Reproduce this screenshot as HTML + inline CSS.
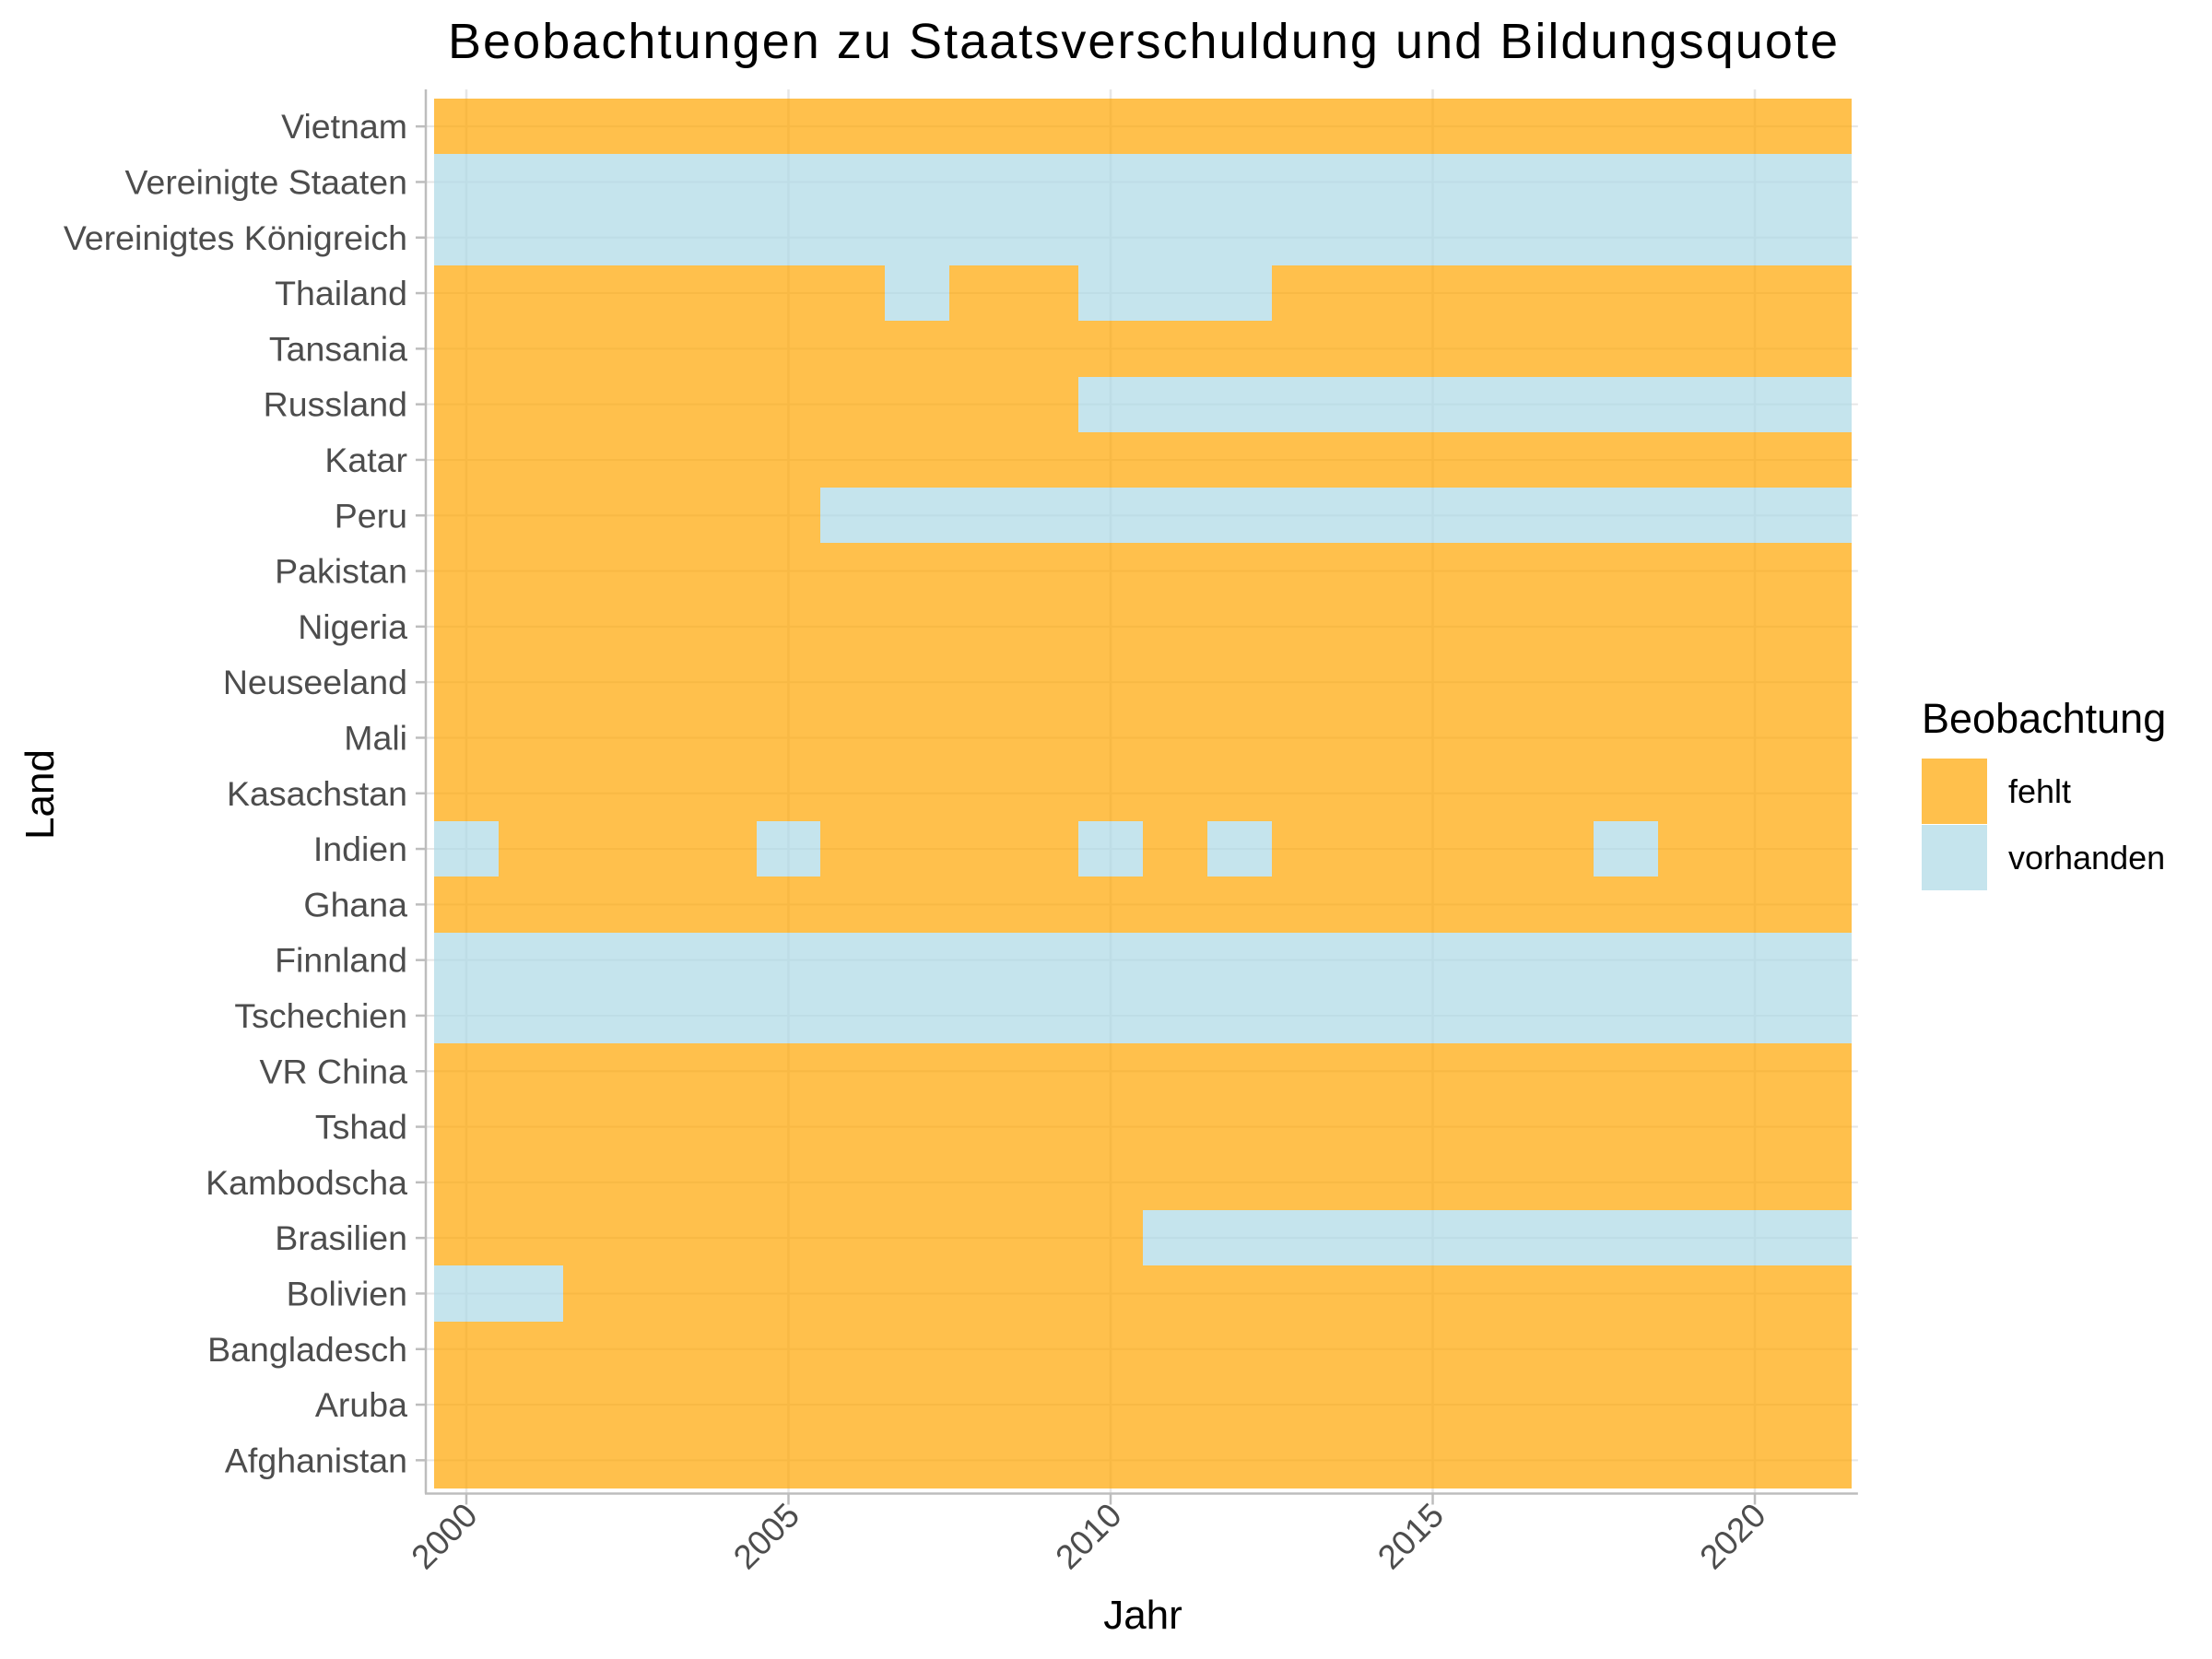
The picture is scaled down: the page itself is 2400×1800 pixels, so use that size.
<!DOCTYPE html>
<html><head><meta charset="utf-8"><style>
body{margin:0;background:#fff}
svg{display:block;font-family:"Liberation Sans",Arial,sans-serif}
</style></head><body>
<svg id="chart" width="2400" height="1800" viewBox="0 0 2400 1800">
<text x="1240" y="63" font-size="54" text-anchor="middle" fill="#000" textLength="1508">Beobachtungen zu Staatsverschuldung und Bildungsquote</text>
<g id="grid"></g>
<g id="tiles" shape-rendering="crispEdges"></g>
<g id="axes"></g>
<text x="1240" y="1767" font-size="44" text-anchor="middle" fill="#000">Jahr</text>
<text x="0" y="0" font-size="44" text-anchor="middle" fill="#000" transform="translate(58,862) rotate(-90)">Land</text>
<g>
<text x="2085" y="795" font-size="45" fill="#000">Beobachtung</text>
<rect x="2085" y="823" width="71" height="71" fill="#FFA500" fill-opacity="0.7"/>
<text x="2179" y="871" font-size="36" fill="#000">fehlt</text>
<rect x="2085" y="895" width="71" height="71" fill="#ADD8E6" fill-opacity="0.7"/>
<text x="2179" y="943" font-size="36" fill="#000">vorhanden</text>
</g>
</svg>
<script>
const countries = ["Vietnam","Vereinigte Staaten","Vereinigtes Königreich","Thailand","Tansania","Russland","Katar","Peru","Pakistan","Nigeria","Neuseeland","Mali","Kasachstan","Indien","Ghana","Finnland","Tschechien","VR China","Tshad","Kambodscha","Brasilien","Bolivien","Bangladesch","Aruba","Afghanistan"];
const years = [2000,2001,2002,2003,2004,2005,2006,2007,2008,2009,2010,2011,2012,2013,2014,2015,2016,2017,2018,2019,2020,2021];
const xTicks = [2000,2005,2010,2015,2020];
const allYears = years;
const presentYears = {
  "Vereinigte Staaten": allYears,
  "Vereinigtes Königreich": allYears,
  "Thailand": [2007,2010,2011,2012],
  "Russland": [2010,2011,2012,2013,2014,2015,2016,2017,2018,2019,2020,2021],
  "Peru": [2006,2007,2008,2009,2010,2011,2012,2013,2014,2015,2016,2017,2018,2019,2020,2021],
  "Indien": [2000,2005,2010,2012,2018],
  "Finnland": allYears,
  "Tschechien": allYears,
  "Brasilien": [2011,2012,2013,2014,2015,2016,2017,2018,2019,2020,2021],
  "Bolivien": [2000,2001]
};
const NS="http://www.w3.org/2000/svg";
const px0=506, pxPerYear=69.9, top0=107, rowH=60.3;
function xs(y){return px0+(y-2000)*pxPerYear;}
function ys(i){return top0+rowH*(i+0.5);}
function mk(tag,attrs,parent){const e=document.createElementNS(NS,tag);for(const k in attrs)e.setAttribute(k,attrs[k]);parent.appendChild(e);return e;}
const grid=document.getElementById('grid'),tiles=document.getElementById('tiles'),axes=document.getElementById('axes');
const left=xs(years[0]-0.5), right=xs(years[years.length-1]+0.5), bottom=top0+rowH*countries.length;
const axisX=462, axisY=bottom+6;
countries.forEach((c,i)=>{const l=mk('line',{x1:axisX,x2:right+7,y1:ys(i),y2:ys(i),stroke:'#E6E6E6','stroke-width':2},grid);

});
xTicks.forEach(t=>{const l=mk('line',{x1:xs(t),x2:xs(t),y1:top0-10,y2:axisY,stroke:'#E6E6E6','stroke-width':2.5},grid);

});
countries.forEach((c,i)=>{
  const pres=presentYears[c]||[];
  const y0=Math.round(top0+rowH*i), y1=Math.round(top0+rowH*(i+1));
  years.forEach(y=>{
    const x0=Math.round(xs(y-0.5)), x1=Math.round(xs(y+0.5));
    const r=mk('rect',{x:x0,y:y0,width:x1-x0,height:y1-y0,fill:pres.includes(y)?'#ADD8E6':'#FFA500','fill-opacity':0.7},tiles);
    
    
  });
});
const ya=mk('line',{x1:axisX,x2:axisX,y1:top0-10,y2:axisY,stroke:'#BDBDBD','stroke-width':2.5},axes);


const xa=mk('line',{x1:axisX-1,x2:right+7,y1:axisY,y2:axisY,stroke:'#BDBDBD','stroke-width':2.5},axes);


countries.forEach((c,i)=>{
  const t=mk('line',{x1:axisX-11,x2:axisX,y1:ys(i),y2:ys(i),stroke:'#BDBDBD','stroke-width':2.5},axes);
  
  
  const tx=mk('text',{x:442,y:ys(i)+13,'font-size':37.5,'text-anchor':'end',fill:'#4D4D4D'},axes);
  tx.textContent=c;
  
  
});
xTicks.forEach(v=>{
  const t=mk('line',{x1:xs(v),x2:xs(v),y1:axisY,y2:axisY+12,stroke:'#BDBDBD','stroke-width':2.5},axes);
  
  
  const tx=mk('text',{x:0,y:0,'font-size':37,'text-anchor':'end',fill:'#4D4D4D',transform:`translate(${xs(v)+14},${axisY+26}) rotate(-45)`},axes);
  tx.textContent=String(v);
  
  
});
</script>
</body></html>
